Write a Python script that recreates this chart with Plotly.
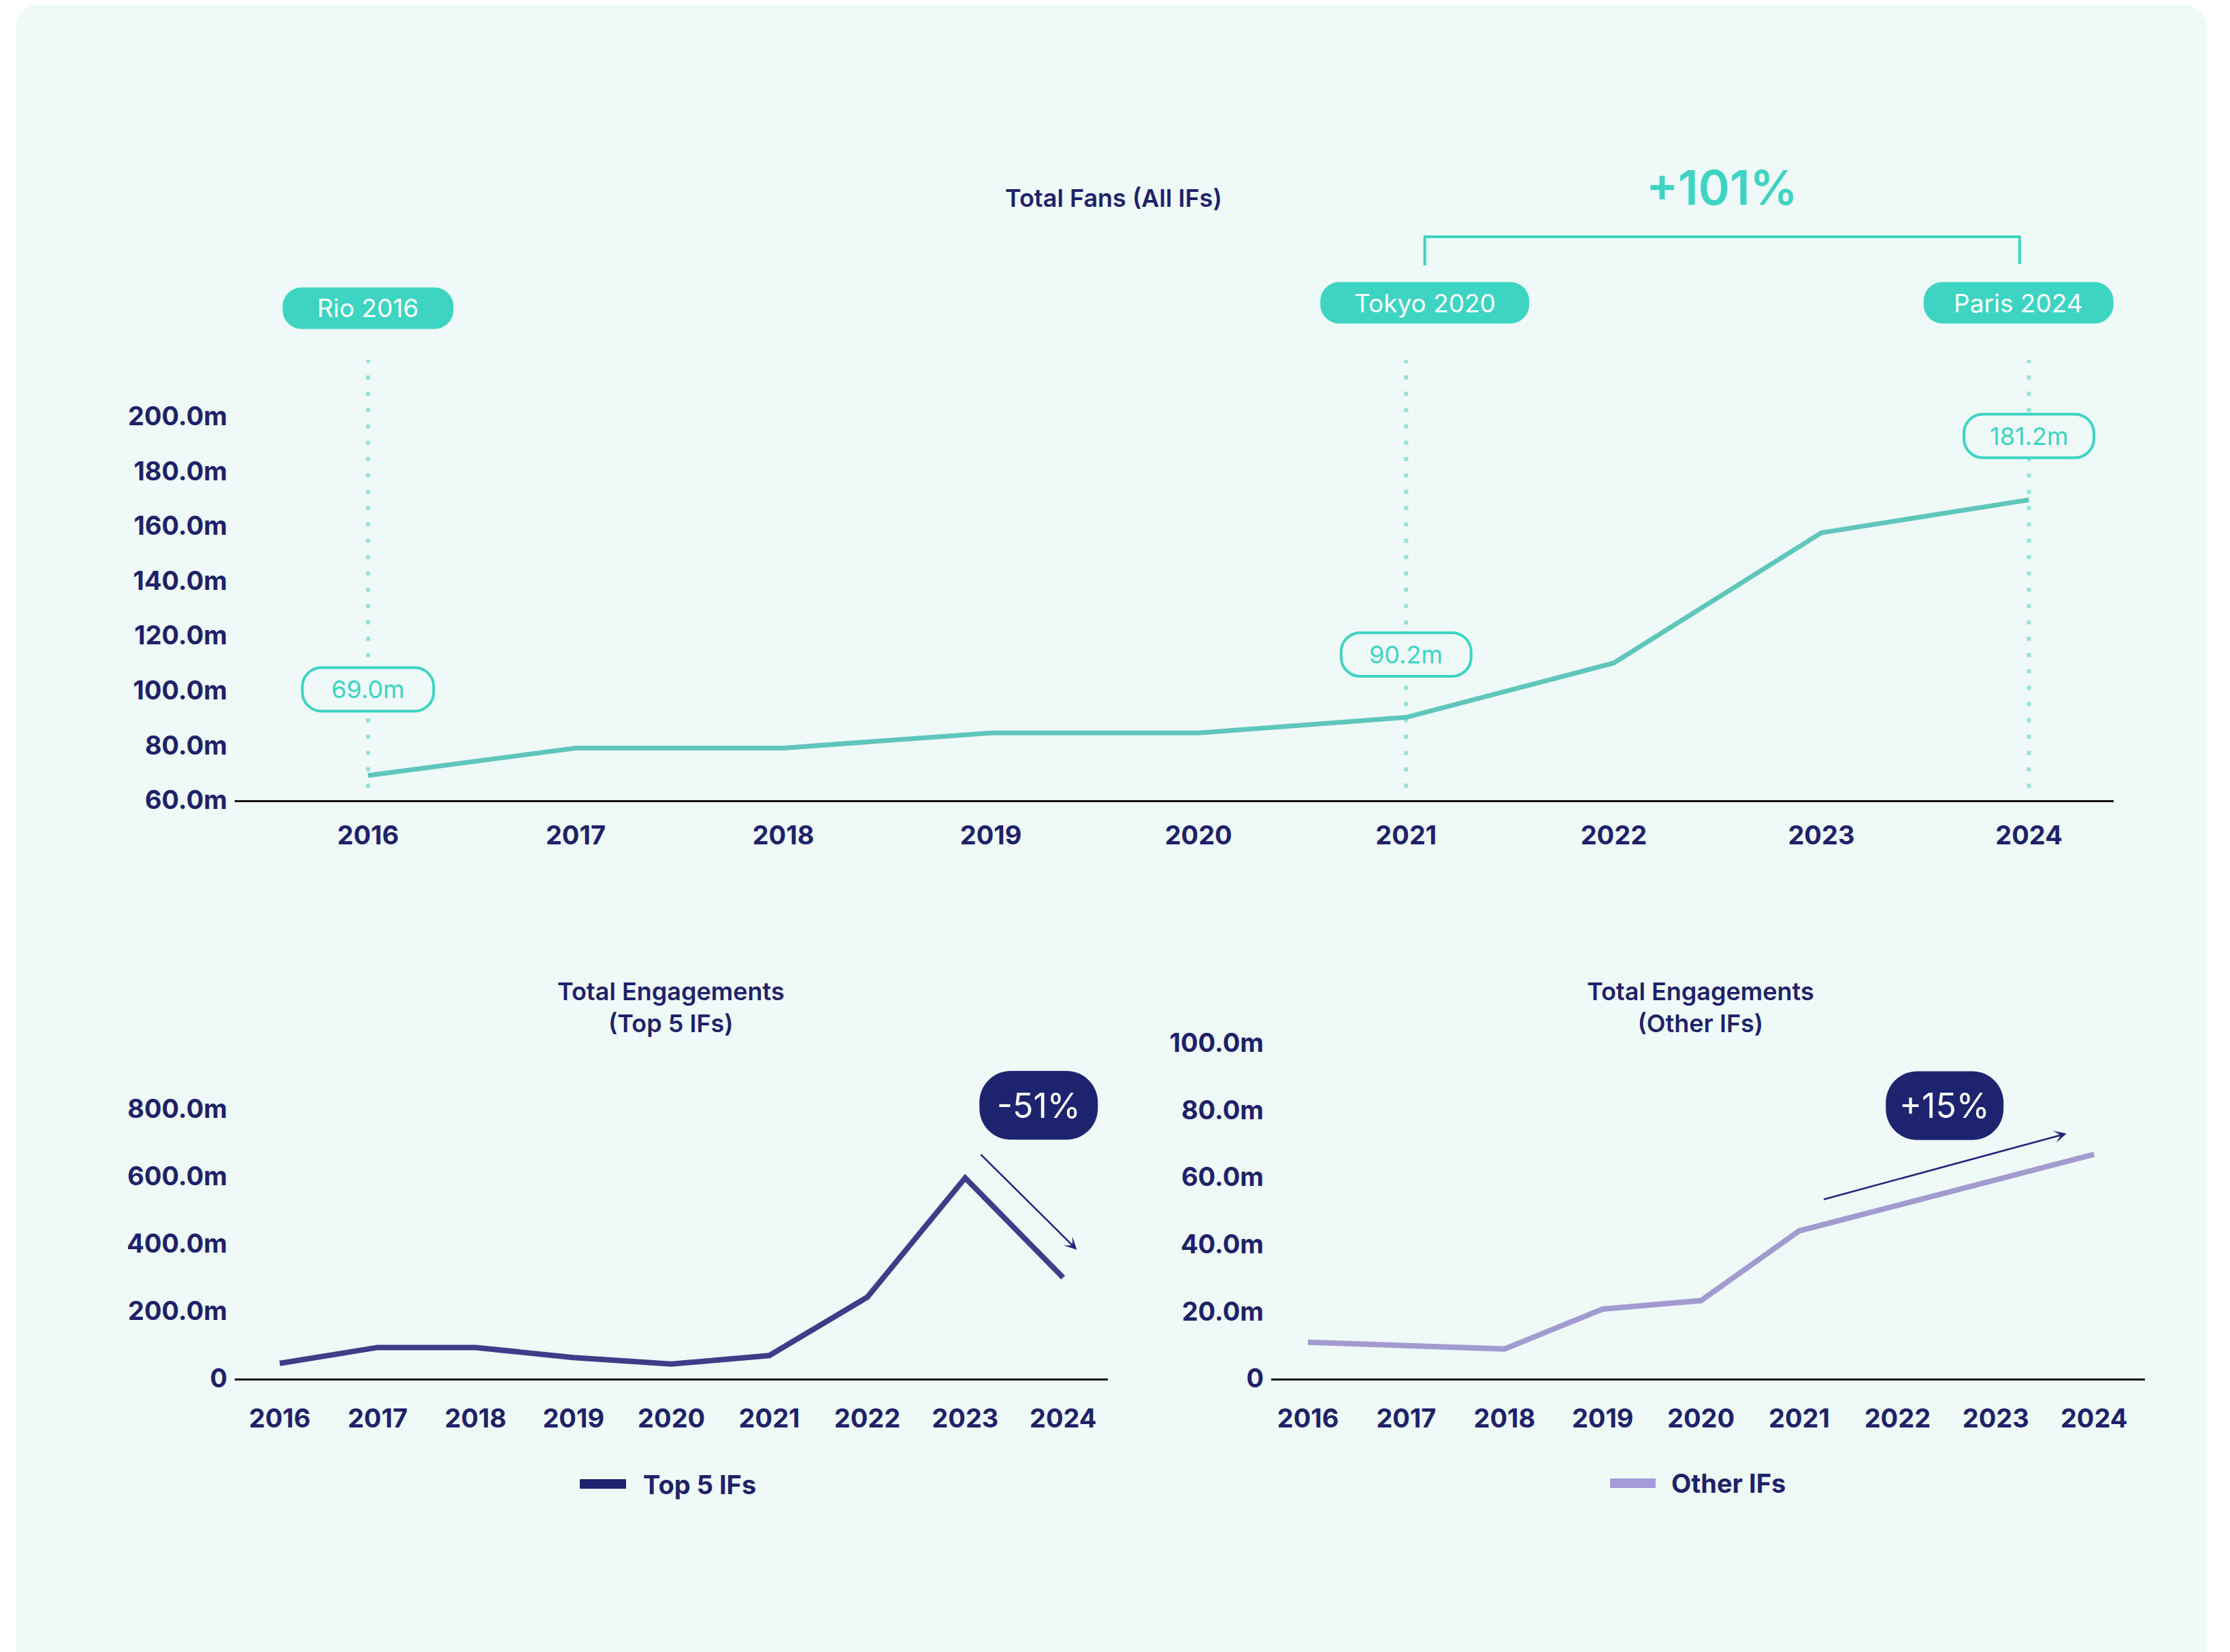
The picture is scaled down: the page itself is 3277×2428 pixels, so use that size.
import plotly.graph_objects as go

W, H = 3277, 2428

# ---------------- data ----------------
years = [2016, 2017, 2018, 2019, 2020, 2021, 2022, 2023, 2024]
year_ticktext = ["2016", "2017", "2018", "2019", "2020", "2021", "2022", "2023", "2024"]

total_fans = [69.0, 79.0, 79.0, 84.5, 84.5, 90.2, 110.0, 157.5, 169.5]      # millions
top5_engagements = [45, 92, 92, 62, 43, 68, 241, 595, 299]                  # millions
other_engagements = [10.8, 10.0, 8.8, 20.7, 23.2, 44.0, 51.5, 59.0, 66.8]   # millions

fans_tickvals = [60, 80, 100, 120, 140, 160, 180, 200]
fans_ticktext = ["60.0m", "80.0m", "100.0m", "120.0m", "140.0m", "160.0m", "180.0m", "200.0m"]
top5_tickvals = [0, 200, 400, 600, 800]
top5_ticktext = ["0", "200.0m", "400.0m", "600.0m", "800.0m"]
other_tickvals = [0, 20, 40, 60, 80, 100]
other_ticktext = ["0", "20.0m", "40.0m", "60.0m", "80.0m", "100.0m"]

callout_years = [2016, 2021, 2024]
callout_labels = ["69.0m", "90.2m", "181.2m"]
games_labels = ["Rio 2016", "Tokyo 2020", "Paris 2024"]
growth_label = "+101%"
top5_change = "-51%"
other_change = "+15%"

# ---------------- style ----------------
FONT = "Inter"
NAVY = "#1E2268"
TEAL = "#3DD4C2"
LINE_TEAL = "#5FC6BA"
DOT_TEAL = "#97E2D8"
CARD = "#EEF9F8"
BADGE = "#1E2370"
TOP5 = "#3D3D88"
OTHER = "#A39BCF"
ARROW = "#23237A"


def px(x):
    return x / W


def py(y):
    return 1 - y / H


def rrect(x0, y0, x1, y1, r):
    """rounded rectangle path in pixel offsets (y up)"""
    k = 0.5523 * r
    return (f"M{x0 + r},{y1} L{x1 - r},{y1} C{x1 - r + k},{y1} {x1},{y1 - r + k} {x1},{y1 - r} "
            f"L{x1},{y0 + r} C{x1},{y0 + r - k} {x1 - r + k},{y0} {x1 - r},{y0} "
            f"L{x0 + r},{y0} C{x0 + r - k},{y0} {x0},{y0 + r - k} {x0},{y0 + r} "
            f"L{x0},{y1 - r} C{x0},{y1 - r + k} {x0 + r - k},{y1} {x0 + r},{y1} Z")


def pill(xref, yref, xa, ya, w, h, r, fill, border=None, bw=0, layer="above"):
    return dict(type="path", xref=xref, yref=yref, xsizemode="pixel", ysizemode="pixel",
                xanchor=xa, yanchor=ya, path=rrect(-w / 2, -h / 2, w / 2, h / 2, r),
                fillcolor=fill, line=dict(color=border if border else "rgba(0,0,0,0)", width=bw),
                layer=layer)


def text(t, xref, yref, x, y, size, color, weight=400, xanchor="center"):
    return dict(text=t, xref=xref, yref=yref, x=x, y=y, showarrow=False,
                xanchor=xanchor, yanchor="middle",
                font=dict(family=FONT, size=size, color=color, weight=weight))


fig = go.Figure()
fig.add_trace(go.Scatter(x=years, y=total_fans, mode="lines", name="Total Fans",
                         line=dict(color=LINE_TEAL, width=7), xaxis="x", yaxis="y",
                         showlegend=False, hoverinfo="skip"))
fig.add_trace(go.Scatter(x=years, y=top5_engagements, mode="lines", name="Top 5 IFs",
                         line=dict(color=TOP5, width=8), xaxis="x2", yaxis="y2",
                         showlegend=False, hoverinfo="skip"))
fig.add_trace(go.Scatter(x=years, y=other_engagements, mode="lines", name="Other IFs",
                         line=dict(color=OTHER, width=8), xaxis="x3", yaxis="y3",
                         showlegend=False, hoverinfo="skip"))

tickfont = dict(family=FONT, size=38, color=NAVY, weight=700)


def xax(domain, rng, anchor, standoff):
    return dict(domain=domain, range=rng, anchor=anchor, tickvals=years, ticktext=year_ticktext,
                showgrid=False, zeroline=False, showline=True, linecolor="#111111", linewidth=3,
                ticks="", tickfont=tickfont, ticklabelstandoff=standoff, automargin=False,
                fixedrange=True)


def yax(domain, rng, anchor, vals, txt):
    return dict(domain=domain, range=rng, anchor=anchor, tickvals=vals, ticktext=txt,
                showgrid=False, zeroline=False, showline=False, ticks="", tickfont=tickfont,
                ticklabelstandoff=10, automargin=False, fixedrange=True)


shapes = []
# card background
shapes.append(dict(type="path", xref="paper", yref="paper", xsizemode="pixel", ysizemode="pixel",
                   xanchor=0, yanchor=1, path=rrect(23, -2460, 3243, -7, 34),
                   fillcolor=CARD, line=dict(color="rgba(0,0,0,0)", width=0), layer="below"))

# dotted guide lines at the Games years
for yr in callout_years:
    shapes.append(dict(type="line", xref="x", yref="y", x0=yr, x1=yr, y0=64.5, y1=220.5,
                       line=dict(color=DOT_TEAL, width=6, dash="6px,18px"), layer="below"))

# value callouts (outlined pills)
callout_pos = [(2016, 100.4, 193), (2021.0, 113.1, 191), (2024, 192.8, 191)]
annotations = []
for (cx, cy, w), lab in zip(callout_pos, callout_labels):
    shapes.append(pill("x", "y", cx, cy, w, 64, 28, CARD, TEAL, 4))
    annotations.append(text(lab, "x", "y", cx, cy, 36, TEAL))

# Games pills
games_pos = [(2016, py(453), 251), (2021.09, py(445), 307), (2023.95, py(445), 279)]
for (gx, gy, w), lab in zip(games_pos, games_labels):
    shapes.append(pill("x", "paper", gx, gy, w, 61, 28, TEAL))
    annotations.append(text(lab, "x", "paper", gx, gy, 37, "#FFFFFF"))

# bracket Tokyo -> Paris
shapes.append(dict(type="path", xref="x", yref="paper",
                   path=f"M2021.09,{py(390)} L2021.09,{py(348)} L2023.955,{py(348)} L2023.955,{py(388)}",
                   line=dict(color=TEAL, width=4), fillcolor="rgba(0,0,0,0)", layer="above"))
annotations.append(text(growth_label, "x", "paper", 2022.52, py(275), 70, TEAL, 600))

# titles
annotations.append(text("Total Fans (All IFs)", "paper", "paper", px(1636), py(291), 36, NAVY, 600))
annotations.append(text("Total Engagements<br>(Top 5 IFs)", "paper", "paper", px(986), py(1480), 36, NAVY, 600))
annotations.append(text("Total Engagements<br>(Other IFs)", "paper", "paper", px(2499), py(1480), 36, NAVY, 600))

# change badges
shapes.append(pill("x2", "y2", 2023.75, 810, 174, 101, 46, BADGE))
annotations.append(text(top5_change, "x2", "y2", 2023.75, 810, 50, "#FFFFFF"))
shapes.append(pill("x3", "y3", 2022.48, 81.3, 173, 101, 46, BADGE))
annotations.append(text(other_change, "x3", "y3", 2022.48, 81.3, 50, "#FFFFFF"))

# trend arrows
annotations.append(dict(text="", xref="x2", yref="y2", axref="x2", ayref="y2",
                        x=2024.14, y=382, ax=2023.15, ay=667, showarrow=True,
                        arrowhead=3, arrowsize=1.2, arrowwidth=2.5, arrowcolor=ARROW,
                        standoff=0, startstandoff=0))
annotations.append(dict(text="", xref="x3", yref="y3", axref="x3", ayref="y3",
                        x=2023.72, y=73.0, ax=2021.24, ay=53.3, showarrow=True,
                        arrowhead=3, arrowsize=1.2, arrowwidth=2.5, arrowcolor=ARROW,
                        standoff=0, startstandoff=0))

# legends (drawn as swatch + label)
shapes.append(dict(type="line", xref="paper", yref="paper", x0=px(852), x1=px(920),
                   y0=py(2181), y1=py(2181), line=dict(color="#1F2370", width=14)))
annotations.append(text("Top 5 IFs", "paper", "paper", px(943), py(2182), 38, NAVY, 700, "left"))
shapes.append(dict(type="line", xref="paper", yref="paper", x0=px(2366), x1=px(2433),
                   y0=py(2180), y1=py(2180), line=dict(color="#A39BD9", width=14)))
annotations.append(text("Other IFs", "paper", "paper", px(2454), py(2180), 38, NAVY, 700, "left"))

# bottom-left: 0.4956 px per m, top extended so the badge is not clipped
y2_top = 960
y2_top_px = 2026 - y2_top * 0.4956

fig.update_layout(
    template="none",
    width=W, height=H, autosize=False,
    margin=dict(l=0, r=0, t=0, b=0, pad=0),
    paper_bgcolor="#FFFFFF", plot_bgcolor="rgba(0,0,0,0)",
    font=dict(family=FONT, color=NAVY),
    showlegend=False,
    xaxis=xax([px(345), px(3106)], [2015.358, 2024.408], "y", 16),
    yaxis=yax([py(1176), py(523)], [60, 222], "x", fans_tickvals, fans_ticktext),
    xaxis2=xax([px(345), px(1628)], [2015.541, 2024.457], "y2", 23),
    yaxis2=yax([py(2026), py(y2_top_px)], [0, y2_top], "x2", top5_tickvals, top5_ticktext),
    xaxis3=xax([px(1868), px(3152)], [2015.626, 2024.518], "y3", 23),
    yaxis3=yax([py(2026), py(1523)], [0, 102], "x3", other_tickvals, other_ticktext),
    shapes=shapes,
    annotations=annotations,
)

fig.write_html("out.html", config={"displayModeBar": False},
               post_script="document.body.style.margin='0';document.body.style.overflow='hidden';")
